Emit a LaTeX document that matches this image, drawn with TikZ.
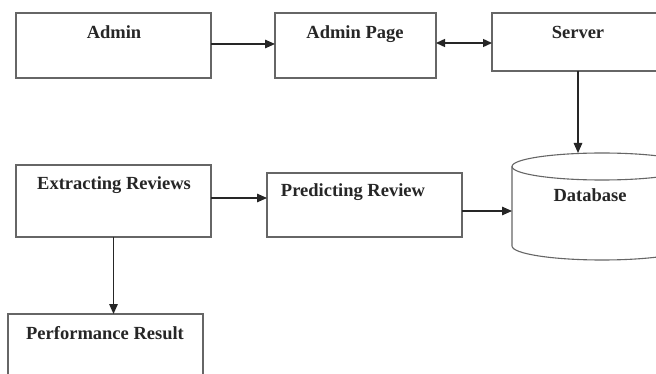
\documentclass[tikz,border=0pt]{standalone}
\usepackage{fontspec}
\setmainfont{Liberation Serif}
\usetikzlibrary{arrows.meta}
\begin{document}
\begin{tikzpicture}[x=1pt,y=-1pt,
  box/.style={draw=black!60,line width=1.2pt,anchor=north west,inner sep=0pt,outer sep=0pt},
  lbl/.style={anchor=base,inner sep=0pt,font=\bfseries\fontsize{18.5}{20}\selectfont,text=black!85},
  conn/.style={draw=black!85,line width=1.4pt,-{Triangle[length=10pt,width=8.5pt]}},
  both/.style={draw=black!85,line width=1.4pt,{Triangle[length=9pt,width=8pt]}-{Triangle[length=9pt,width=8pt]}}]
\useasboundingbox (0,0) rectangle (656,374);
\fill[white] (0,0) rectangle (656,374);
\clip (0,0) rectangle (656,374);

% process boxes
\node[box,minimum width=195pt,minimum height=65pt] (admin) at (16,13) {};
\node[box,minimum width=161pt,minimum height=65pt] (adminpage) at (275,13) {};
\node[box,minimum width=180pt,minimum height=58pt] (server) at (492,13) {};
\node[box,minimum width=195pt,minimum height=72pt] (extract) at (16,165) {};
\node[box,minimum width=195pt,minimum height=64pt] (predict) at (267,173) {};
\node[box,minimum width=195pt,minimum height=80pt] (perf) at (8,314) {};

% database cylinder
\draw[black!60,line width=1.1pt] (602,166.5) ellipse [x radius=90, y radius=13.5];
\draw[black!60,line width=1.1pt] (512,166.5) -- (512,246)
  arc[start angle=180, end angle=0, x radius=90, y radius=14] -- (692,166.5);
\coordinate (dbtop) at (578,153);
\coordinate (dbleft) at (512,211);

% labels
\node[lbl] (tadmin) at (114,39) {Admin};
\node[lbl] (tadminpage) at (355,39) {Admin Page};
\node[lbl] (tserver) at (578,39) {Server};
\node[lbl] (textract) at (114,190) {Extracting Reviews};
\node[lbl] (tpredict) at (353,197) {Predicting Review};
\node[lbl] (tdb) at (590,202) {Database};
\node[lbl] (tperf) at (105,339) {Performance Result};

% connectors
\draw[conn] ([yshift=1.5pt]admin.east) -- ([yshift=1.5pt]admin.east -| adminpage.west);
\draw[both] ([yshift=2.5pt]adminpage.east) -- ([yshift=2.5pt]adminpage.east -| server.west);
\draw[conn] (server.south -| dbtop) -- (dbtop);
\draw[conn] ([yshift=3pt]extract.east) -- ([yshift=3pt]extract.east -| predict.west);
\draw[conn] (predict.east |- dbleft) -- (dbleft);
\draw[conn] (extract.south) -- (extract.south |- perf.north);
\end{tikzpicture}
\end{document}
